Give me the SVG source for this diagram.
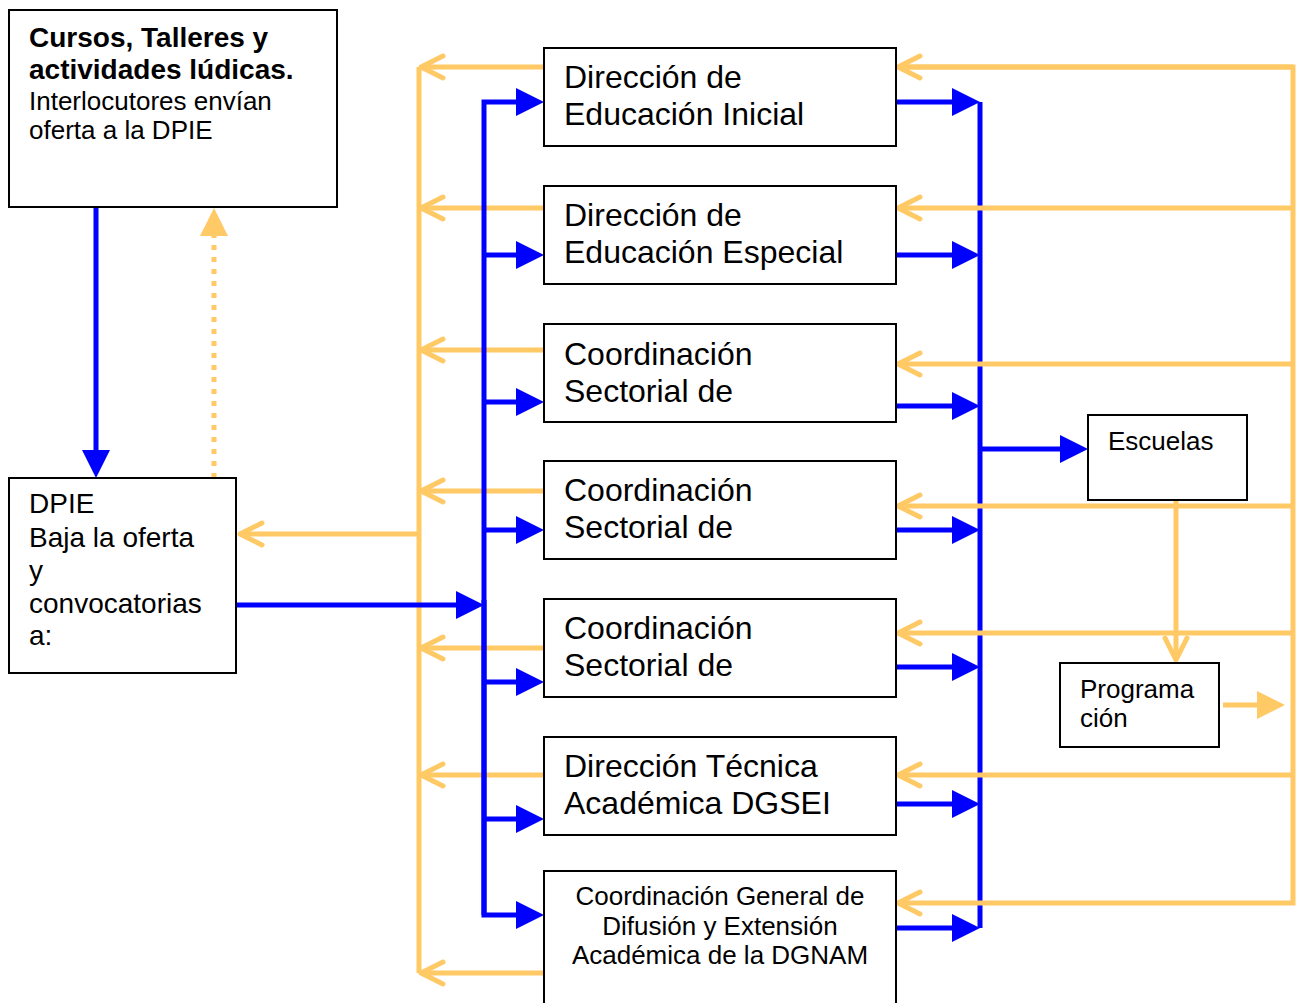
<svg xmlns="http://www.w3.org/2000/svg" width="1296" height="1003" viewBox="0 0 1296 1003">
<style>
.box{fill:#fff;stroke:#000;stroke-width:2}
.t{font-family:"Liberation Sans",Arial,sans-serif;fill:#000}
.big{font-size:32px}
.md{font-size:28px}
.sm{font-size:26px}
.b{font-weight:bold}
.blue{fill:none;stroke:#0000FF;stroke-width:5}
.yel{fill:none;stroke:#FFC966;stroke-width:5}
</style>
<defs>
<marker id="bt" markerUnits="userSpaceOnUse" viewBox="-22 -16 32 32" markerWidth="32" markerHeight="32" refX="0" refY="0" orient="auto" overflow="visible">
<path d="M-20,-14 L8,0 L-20,14 Z" fill="#0000FF"/>
</marker>
<marker id="yt" markerUnits="userSpaceOnUse" viewBox="-22 -16 32 32" markerWidth="32" markerHeight="32" refX="0" refY="0" orient="auto" overflow="visible">
<path d="M-20,-14 L8,0 L-20,14 Z" fill="#FFC966"/>
</marker>
<marker id="yc" markerUnits="userSpaceOnUse" viewBox="-26 -14 30 28" markerWidth="30" markerHeight="28" refX="0" refY="0" orient="auto" overflow="visible">
<path d="M-22,-11 L0,0 L-22,11" fill="none" stroke="#FFC966" stroke-width="5" stroke-linecap="round" stroke-linejoin="round"/>
</marker>
</defs>

<g id="connectors">
<!-- top-left to DPIE -->
<path class="blue" d="M96,207 L96,470" marker-end="url(#bt)"/>
<path class="yel" d="M214,478 L214,216" stroke-dasharray="5 7" marker-end="url(#yt)"/>
<!-- left yellow spine -->
<path class="yel" d="M419,973 L419,67"/>
<path class="yel" d="M546,67 L421,67" marker-end="url(#yc)"/>
<path class="yel" d="M546,208 L421,208" marker-end="url(#yc)"/>
<path class="yel" d="M546,350 L421,350" marker-end="url(#yc)"/>
<path class="yel" d="M546,491 L421,491" marker-end="url(#yc)"/>
<path class="yel" d="M546,648 L421,648" marker-end="url(#yc)"/>
<path class="yel" d="M546,775 L421,775" marker-end="url(#yc)"/>
<path class="yel" d="M546,973 L421,973" marker-end="url(#yc)"/>
<path class="yel" d="M419,534 L240,534" marker-end="url(#yc)"/>
<!-- DPIE to blue spine -->
<path class="blue" d="M236,605 L476,605" marker-end="url(#bt)"/>
<!-- left blue spine -->
<path class="blue" d="M484,915 L484,102 L536,102" marker-end="url(#bt)"/>
<path class="blue" d="M484,600 L484,915 L536,915" marker-end="url(#bt)"/>
<path class="blue" d="M484,255 L536,255" marker-end="url(#bt)"/>
<path class="blue" d="M484,402 L536,402" marker-end="url(#bt)"/>
<path class="blue" d="M484,530 L536,530" marker-end="url(#bt)"/>
<path class="blue" d="M484,682 L536,682" marker-end="url(#bt)"/>
<path class="blue" d="M484,819 L536,819" marker-end="url(#bt)"/>
<!-- right blue spine -->
<path class="blue" d="M980,102 L980,928"/>
<path class="blue" d="M896,102 L972,102" marker-end="url(#bt)"/>
<path class="blue" d="M896,255 L972,255" marker-end="url(#bt)"/>
<path class="blue" d="M896,406 L972,406" marker-end="url(#bt)"/>
<path class="blue" d="M896,530 L972,530" marker-end="url(#bt)"/>
<path class="blue" d="M896,667 L972,667" marker-end="url(#bt)"/>
<path class="blue" d="M896,804 L972,804" marker-end="url(#bt)"/>
<path class="blue" d="M896,928 L972,928" marker-end="url(#bt)"/>
<path class="blue" d="M980,449 L1080,449" marker-end="url(#bt)"/>
<!-- right yellow spine -->
<path class="yel" d="M898,67 L1293,67 L1293,903 L898,903" marker-end="url(#yc)"/>
<path class="yel" d="M1293,67 L898,67" marker-end="url(#yc)"/>
<path class="yel" d="M1293,208 L898,208" marker-end="url(#yc)"/>
<path class="yel" d="M1293,364 L898,364" marker-end="url(#yc)"/>
<path class="yel" d="M1293,506 L898,506" marker-end="url(#yc)"/>
<path class="yel" d="M1293,633 L898,633" marker-end="url(#yc)"/>
<path class="yel" d="M1293,775 L898,775" marker-end="url(#yc)"/>
<!-- Escuelas to Programación -->
<path class="yel" d="M1176,500 L1176,660" marker-end="url(#yc)"/>
<path class="yel" d="M1223,705 L1277,705" marker-end="url(#yt)"/>
</g>

<g id="cursos">
<rect class="box" x="9" y="10" width="328" height="197"/>
<text class="t md b" x="29" y="47">Cursos, Talleres y</text>
<text class="t md b" x="29" y="79">actividades lúdicas.</text>
<text class="t sm" x="29" y="110">Interlocutores envían</text>
<text class="t sm" x="29" y="139">oferta a la DPIE</text>
</g>

<g id="dpie">
<rect class="box" x="9" y="478" width="227" height="195"/>
<text class="t md" x="29" y="513">DPIE</text>
<text class="t md" x="29" y="547">Baja la oferta</text>
<text class="t md" x="29" y="580">y</text>
<text class="t md" x="29" y="613">convocatorias</text>
<text class="t md" x="29" y="645">a:</text>
</g>

<g id="n1">
<rect class="box" x="544" y="48" width="352" height="98"/>
<text class="t big" x="564" y="88">Dirección de</text>
<text class="t big" x="564" y="125">Educación Inicial</text>
</g>
<g id="n2">
<rect class="box" x="544" y="186" width="352" height="98"/>
<text class="t big" x="564" y="226">Dirección de</text>
<text class="t big" x="564" y="263">Educación Especial</text>
</g>
<g id="n3">
<rect class="box" x="544" y="324" width="352" height="98"/>
<text class="t big" x="564" y="365">Coordinación</text>
<text class="t big" x="564" y="402">Sectorial de</text>
</g>
<g id="n4">
<rect class="box" x="544" y="461" width="352" height="98"/>
<text class="t big" x="564" y="501">Coordinación</text>
<text class="t big" x="564" y="538">Sectorial de</text>
</g>
<g id="n5">
<rect class="box" x="544" y="599" width="352" height="98"/>
<text class="t big" x="564" y="639">Coordinación</text>
<text class="t big" x="564" y="676">Sectorial de</text>
</g>
<g id="n6">
<rect class="box" x="544" y="737" width="352" height="98"/>
<text class="t big" x="564" y="777">Dirección Técnica</text>
<text class="t big" x="564" y="814">Académica DGSEI</text>
</g>
<g id="n7">
<rect class="box" x="544" y="871" width="352" height="150"/>
<text class="t sm" x="720" y="905" text-anchor="middle">Coordinación General de</text>
<text class="t sm" x="720" y="935" text-anchor="middle">Difusión y Extensión</text>
<text class="t sm" x="720" y="964" text-anchor="middle">Académica de la DGNAM</text>
</g>

<g id="escuelas">
<rect class="box" x="1088" y="415" width="159" height="85"/>
<text class="t sm" x="1108" y="450">Escuelas</text>
</g>
<g id="programacion">
<rect class="box" x="1060" y="663" width="159" height="84"/>
<text class="t sm" x="1080" y="698">Programa</text>
<text class="t sm" x="1080" y="727">ción</text>
</g>
</svg>
